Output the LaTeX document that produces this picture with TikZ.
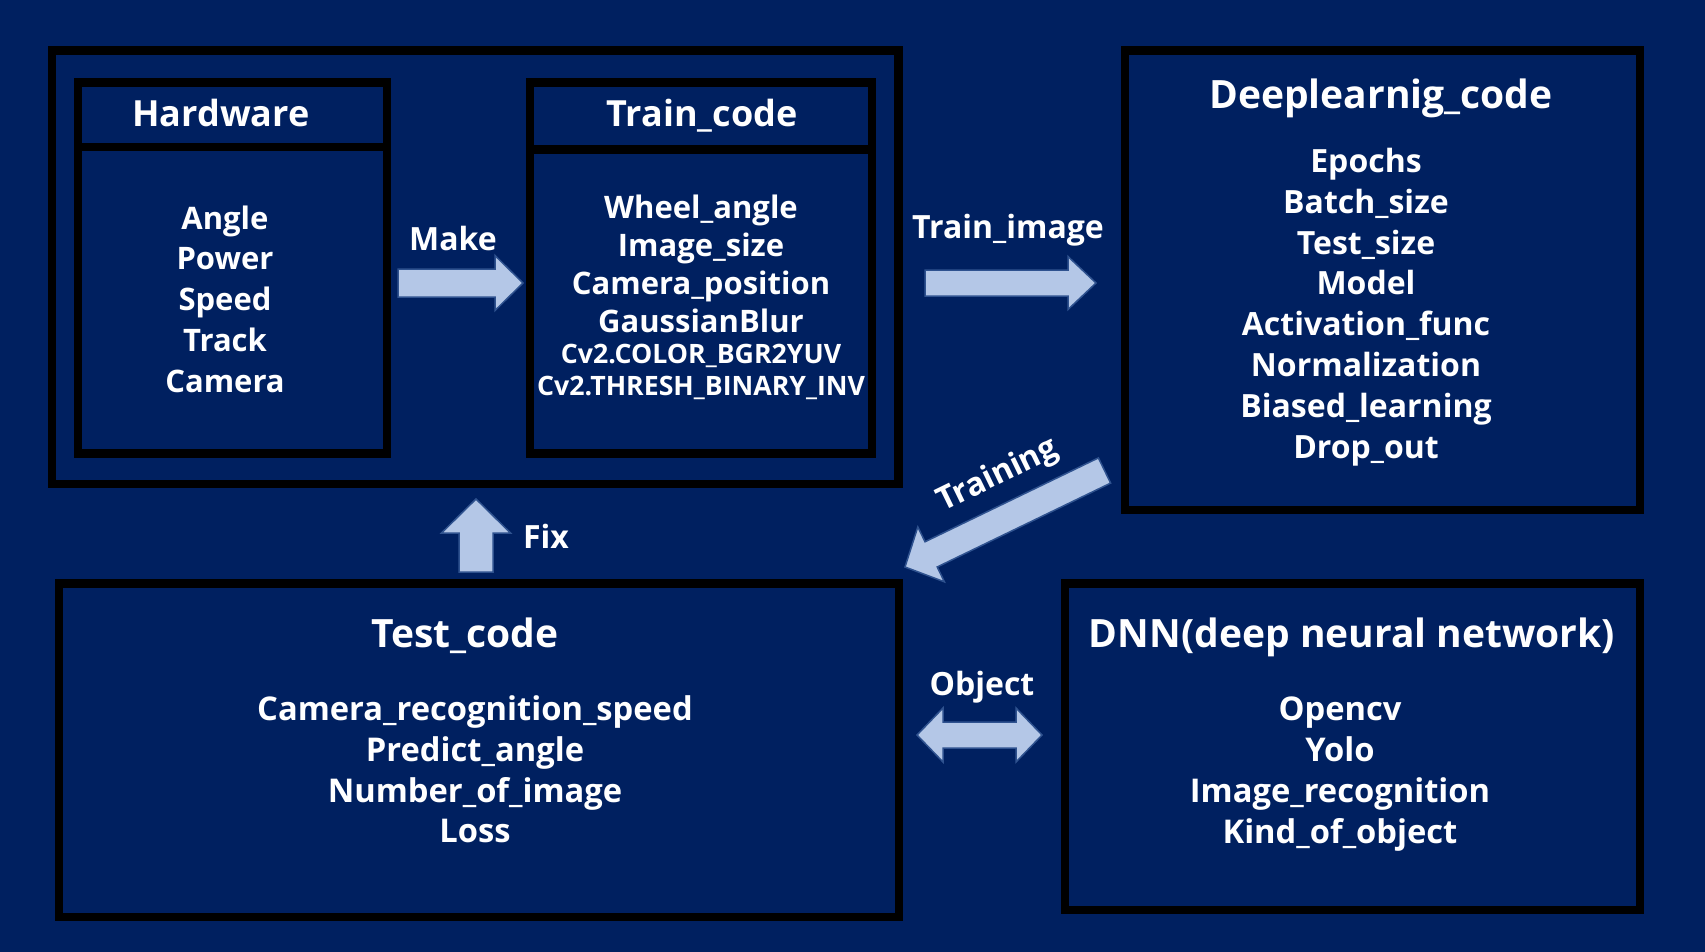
\documentclass[tikz,border=0pt]{standalone}
\usepackage{fontspec}
\setmainfont{Open Sans}
\usetikzlibrary{calc}

\definecolor{slidebg}{HTML}{002060}
\definecolor{arrowfill}{HTML}{B4C7E7}
\definecolor{arrowline}{HTML}{2F528F}

\tikzset{
  box/.style 2 args={draw=black, line width=8.5pt, minimum width=#1, minimum height=#2, inner sep=0pt},
  head/.style={font=\bfseries\fontsize{36}{43}\selectfont, text=white, anchor=base},
  bighead/.style={head, font=\bfseries\fontsize{39}{46}\selectfont},
  items/.style={font=\bfseries\fontsize{31}{40.8}\selectfont, text=white, align=center},
  smallitems/.style={font=\bfseries\fontsize{26.7}{31.5}\selectfont, text=white, align=center},
  tag/.style={font=\bfseries\fontsize{32}{37}\selectfont, text=white, anchor=base},
  % block arrow: half shaft, half head, head length
  fatarrow/.style n args={3}{draw=arrowline, line width=1.5pt, fill=arrowfill,
    to path={let \p1=(\tikztostart), \p2=(\tikztotarget),
      \n1={atan2(\y2-\y1,\x2-\x1)}, \n2={veclen(\x2-\x1,\y2-\y1)-#3} in
      ($(\p1)+(\n1+90:#1)$) -- ++(\n1:\n2) -- ++(\n1+90:#2-#1) -- (\p2)
      -- ($(\p2)+(\n1+180:#3)+(\n1-90:#2)$) -- ++(\n1+90:#2-#1)
      -- ($(\p1)+(\n1-90:#1)$) -- cycle}},
  % block arrow with two heads
  fatdarrow/.style n args={3}{draw=arrowline, line width=1.5pt, fill=arrowfill,
    to path={let \p1=(\tikztostart), \p2=(\tikztotarget),
      \n1={atan2(\y2-\y1,\x2-\x1)}, \n2={veclen(\x2-\x1,\y2-\y1)-2*#3} in
      (\p1) -- ($(\p1)+(\n1:#3)+(\n1+90:#2)$) -- ++(\n1-90:#2-#1) -- ++(\n1:\n2)
      -- ++(\n1+90:#2-#1) -- (\p2) -- ($(\p2)+(\n1+180:#3)+(\n1-90:#2)$)
      -- ++(\n1+90:#2-#1) -- ++(\n1+180:\n2) -- ++(\n1-90:#2-#1) -- cycle}}
}

\begin{document}
\begin{tikzpicture}[x=1pt, y=-1pt]
  \fill[slidebg] (0,0) rectangle (1705,952);
  \useasboundingbox (0,0) rectangle (1705,952);

  % boxes
  \node[box={846.5}{433.5}] (prep) at (475.25,267.25) {};
  \node[box={309}{371}] (hw) at (232.5,268) {};
  \node[box={309}{64.5}, anchor=north] (hwhead) at (hw.north) {};
  \node[box={342}{371}] (tc) at (701,268) {};
  \node[box={342}{67}, anchor=north] (tchead) at (tc.north) {};
  \node[box={515}{459.5}] (dl) at (1382.5,280.25) {};
  \node[box={840}{333.5}] (test) at (479,750.25) {};
  \node[box={575}{326.5}] (dnn) at (1352.5,746.75) {};

  % texts
  \node[head] (hwtitle) at (221,127) {Hardware};
  \node[items] (hwitems) at (225,299) {Angle\\Power\\Speed\\Track\\Camera};
  \node[head] (tctitle) at (702,127) {Train\_code};
  \node[items, font=\bfseries\fontsize{31}{38}\selectfont] (tcitems) at (701,264)
    {Wheel\_angle\\Image\_size\\Camera\_position\\GaussianBlur};
  \node[smallitems] (tcextra) at (701,372) {Cv2.COLOR\_BGR2YUV\\Cv2.THRESH\_BINARY\_INV};
  \node[bighead] (dltitle) at (1381,109) {Deeplearnig\_code};
  \node[items, font=\bfseries\fontsize{32}{40.8}\selectfont] (dlitems) at (1366,307)
    {Epochs\\Batch\_size\\Test\_size\\Model\\Activation\_func\\Normalization\\Biased\_learning\\Drop\_out};
  \node[bighead] (testtitle) at (465,647) {Test\_code};
  \node[items, font=\bfseries\fontsize{32.7}{40.8}\selectfont] (testitems) at (475,769.5)
    {Camera\_recognition\_speed\\Predict\_angle\\Number\_of\_image\\Loss};
  \node[bighead] (dnntitle) at (1352,647) {DNN(deep neural network)};
  \node[items, font=\bfseries\fontsize{32.7}{40.8}\selectfont] (dnnitems) at (1340,774)
    {Opencv\\Yolo\\Image\_recognition\\Kind\_of\_object};

  % arrows
  \coordinate (mk0) at (398,283);
  \coordinate (mk1) at (523,283);
  \path[fatarrow={14pt}{27.5pt}{28pt}] (mk0) to (mk1);
  \node[tag] (mktag) at (453,250) {Make};

  \coordinate (ti0) at (925,283);
  \coordinate (ti1) at (1096,283);
  \path[fatarrow={13pt}{26.5pt}{28pt}] (ti0) to (ti1);
  \node[tag] (titag) at (1008,239) {Train\_image};

  \coordinate (tr0) at (1104.5,470.5);
  \coordinate (tr1) at (905,567);
  \path[fatarrow={14pt}{30.5pt}{29pt}] (tr0) to (tr1);
  \node[tag, anchor=center, rotate=26] (trtag) at (998,476) {Training};

  \coordinate (fx0) at (476,572);
  \coordinate (fx1) at (476,499);
  \path[fatarrow={17pt}{34.5pt}{34pt}] (fx0) to (fx1);
  \node[tag] (fxtag) at (546,548) {Fix};

  \coordinate (ob0) at (917,735);
  \coordinate (ob1) at (1042,735);
  \path[fatdarrow={13pt}{27pt}{26pt}] (ob0) to (ob1);
  \node[tag] (obtag) at (982,695) {Object};
\end{tikzpicture}
\end{document}
